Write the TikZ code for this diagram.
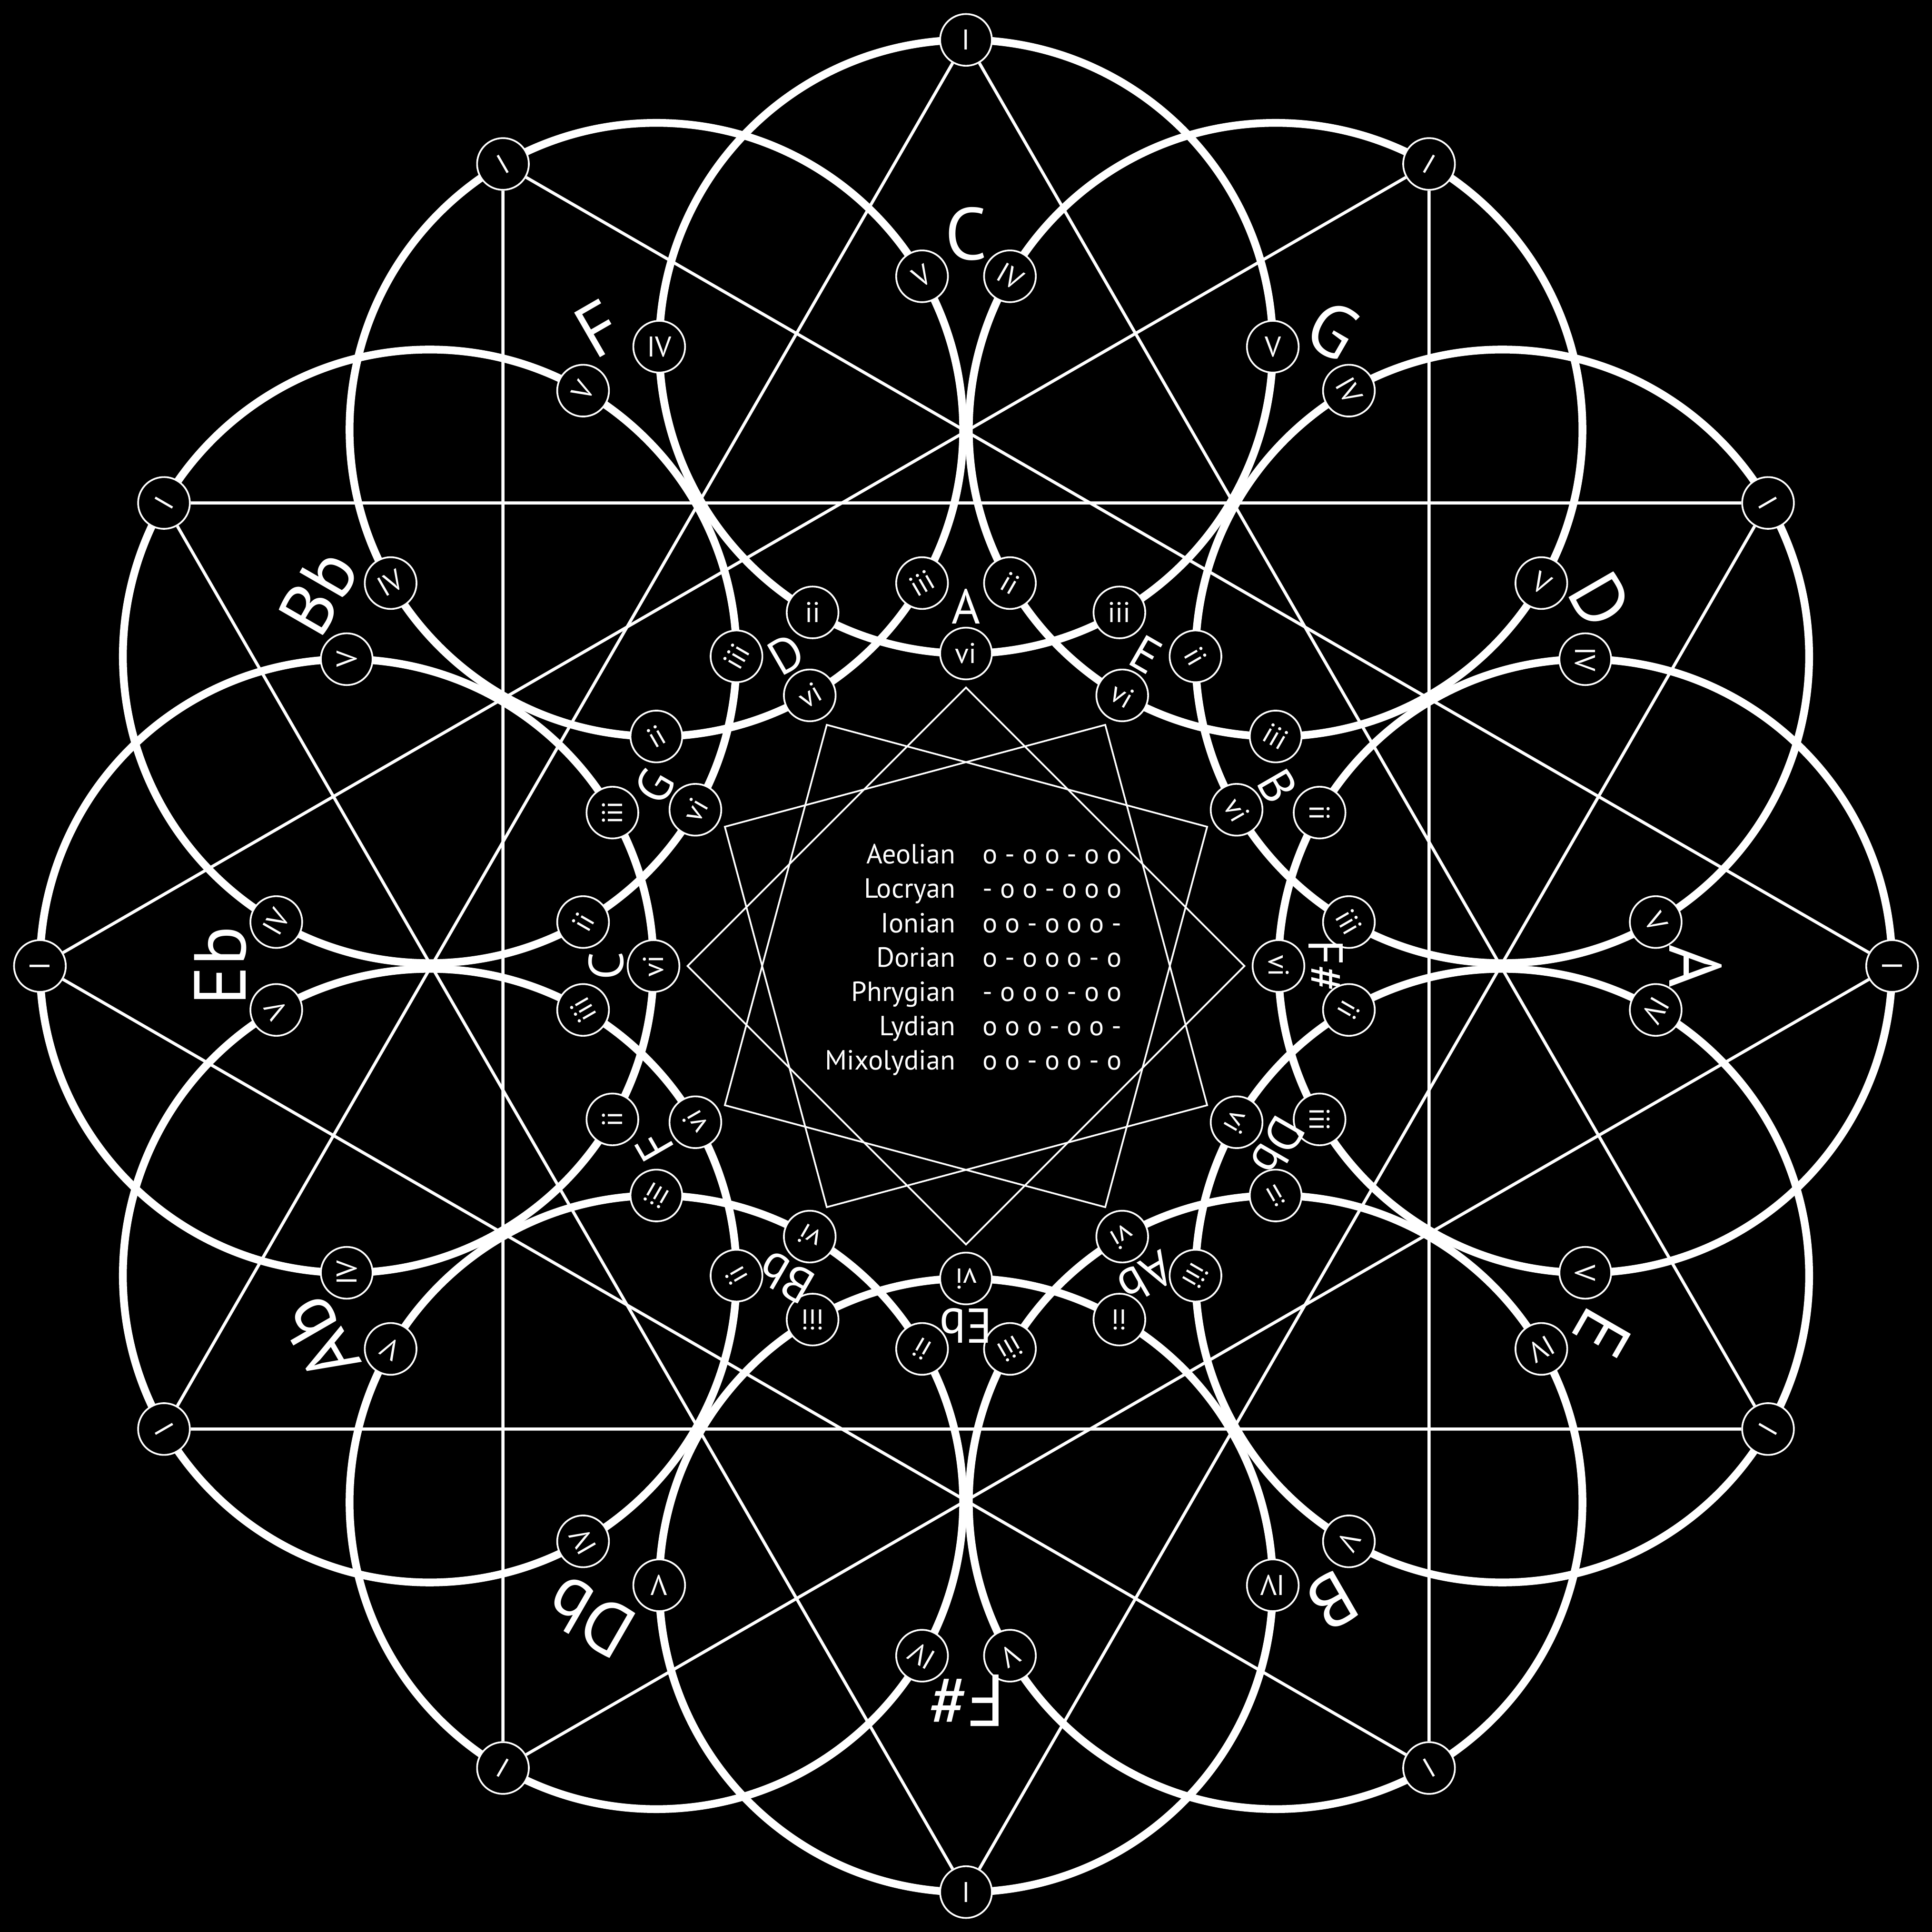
\documentclass[tikz,border=0pt]{standalone}
\usepackage{fontspec}
\setmainfont{PT Sans}
\usepackage{tikz}
\usetikzlibrary{backgrounds}

\begin{document}
\begin{tikzpicture}[
    every node/.style={text=white},
    ring/.style={draw=white, line width=1.8pt},
    chordline/.style={draw=white, line width=0.7pt},
    modeline/.style={draw=white, line width=0.4pt},
    chord/.style={circle, draw=white, fill=black, line width=0.4pt,
                  minimum size=0.42cm, inner sep=0pt, font=\fontsize{6.6}{7}\selectfont},
    keylbl/.style={font=\fontsize{17}{17}\selectfont, inner sep=0pt},
    minorlbl/.style={font=\fontsize{11.3}{11.3}\selectfont, inner sep=0pt},
    modelbl/.style={font=\fontsize{6.4}{7}\selectfont, inner sep=0pt}
]

% === Rings of the twelve keys ===
\foreach \i in {0,...,11}
    \draw[ring] ({90-30*\i}:5.026) circle (2.49);

% === Star of the modes ===
\foreach \a in {0,30,60}
    \draw[modeline] (\a:2.26) -- ({\a+90}:2.26) -- ({\a+180}:2.26) -- ({\a+270}:2.26) -- cycle;

% === Chord nodes and key names ===
\foreach \key/\lbl/\kr/\minor [count=\i from 0] in {C/C/5.94/A, G/G/5.96/E, D/D/5.94/B,
        A/A/5.92/F\#, E/E/5.96/Db, B/B/5.95/Ab, Fs/F\#/5.96/Eb, Db/Db/6.1/Bb,
        Ab/Ab/6.06/F, Eb/Eb/6.05/C, Bb/Bb/6.07/G, F/F/5.97/D} {
    \pgfmathsetmacro{\t}{90-30*\i}
    \begin{scope}[shift={(\t:5.026)}, every node/.append style={rotate=\t-90}]
        \node[chord] (\key-I)   at (\t:2.49)        {I};
        \node[chord] (\key-V)   at ({\t-90}:2.49)   {V};
        \node[chord] (\key-IV)  at ({\t+90}:2.49)   {IV};
        \node[chord] (\key-ii)  at ({\t+150}:2.49)  {ii};
        \node[chord] (\key-iii) at ({\t+210}:2.49)  {iii};
        \node[chord] (\key-vi)  at ({\t+180}:2.49)  {vi};
    \end{scope}
    \node[keylbl, rotate=\t-90] (\key-name) at (\t:\kr) {\lbl};
    \node[minorlbl, rotate=\t-90] (\key-rel) at (\t:2.92) {\minor};
}

% === Mode table ===
\foreach \mode/\steps [count=\j from 0] in {Aeolian/o - o o - o o, Locryan/- o o - o o o,
        Ionian/o o - o o o -, Dorian/o - o o o - o, Phrygian/- o o o - o o,
        Lydian/o o o - o o -, Mixolydian/o o - o o - o} {
    \node[modelbl, anchor=base east] (mode\j) at (-0.08, {0.83-0.279*\j}) {\mode};
    \node[modelbl, anchor=base west] (steps\j) at (0.13, {0.83-0.279*\j}) {\steps};
}

% === Triangles between the tonics ===
\begin{scope}[on background layer]
    \fill[black] (-7.84,-7.84) rectangle (7.84,7.84);
    \draw[chordline] (C-I) -- (E-I) -- (Ab-I) -- (C-I);
    \draw[chordline] (G-I) -- (B-I) -- (Eb-I) -- (G-I);
    \draw[chordline] (D-I) -- (Fs-I) -- (Bb-I) -- (D-I);
    \draw[chordline] (A-I) -- (Db-I) -- (F-I) -- (A-I);
\end{scope}

\end{tikzpicture}
\end{document}
